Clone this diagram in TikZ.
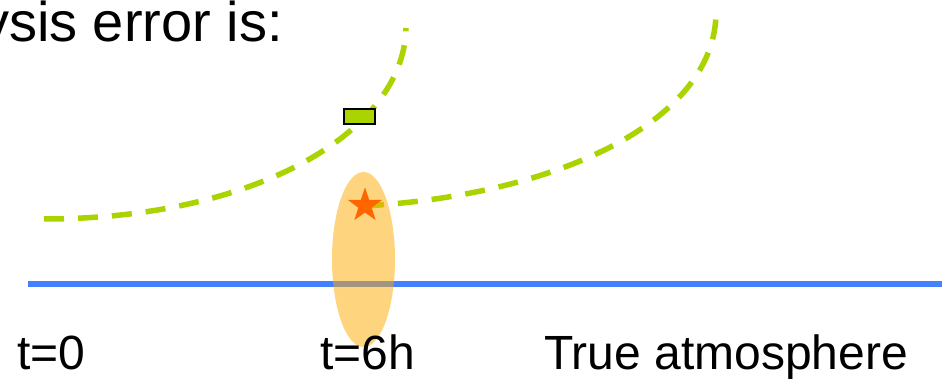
\documentclass[tikz,border=0pt]{standalone}
\usepackage{fontspec}
\setmainfont{Liberation Sans}
\usetikzlibrary{shapes.geometric}
\definecolor{curvegreen}{RGB}{170,212,0}
\definecolor{truthblue}{RGB}{68,128,255}
\definecolor{starorange}{RGB}{255,102,0}
\definecolor{ellorange}{RGB}{255,170,0}
\tikzset{
  guess/.style={curvegreen, line width=5.5pt, dash pattern=on 20pt off 14pt},
  label/.style={inner sep=0pt, font=\fontsize{48}{56}\selectfont, anchor=base west},
}
\begin{document}
\begin{tikzpicture}[x=1pt,y=-1pt]
\useasboundingbox (0,0) rectangle (946,379);
% title fragment
\node[inner sep=0pt, font=\fontsize{56}{64}\selectfont, anchor=base east] (title) at (283,42) {ysis error is:};
% true atmosphere
\coordinate (tl) at (28,284);
\coordinate (tr) at (942,284);
\draw[truthblue, line width=6pt] (tl) -- (tr);
% dashed trajectories
\coordinate (a0) at (44,219);
\coordinate (a1) at (406,28);
\draw[guess] (a0) .. controls (255,219) and (404,132) .. (a1);
\coordinate (b0) at (364,206);
\coordinate (b1) at (716,12);
\draw[guess] (b0) .. controls (560,195) and (716,120) .. (b1);
% uncertainty ellipse
\fill[ellorange, opacity=0.5] (363.5,259.5) ellipse [x radius=31.5, y radius=87.5];
% star (analysis)
\node[star, star points=5, star point ratio=2.55, minimum size=36pt, inner sep=0pt, fill=starorange] (star) at (365,205.5) {};
% observation
\node[draw=black, line width=2pt, fill=curvegreen, minimum width=31pt, minimum height=15pt, inner sep=0pt] (obs) at (359.5,116.5) {};
% labels
\node[label] (t0) at (17,370) {t=0};
\node[label] (t6) at (320,370) {t=6h};
\node[label] (true) at (544,370) {True atmosphere};
\end{tikzpicture}
\end{document}
